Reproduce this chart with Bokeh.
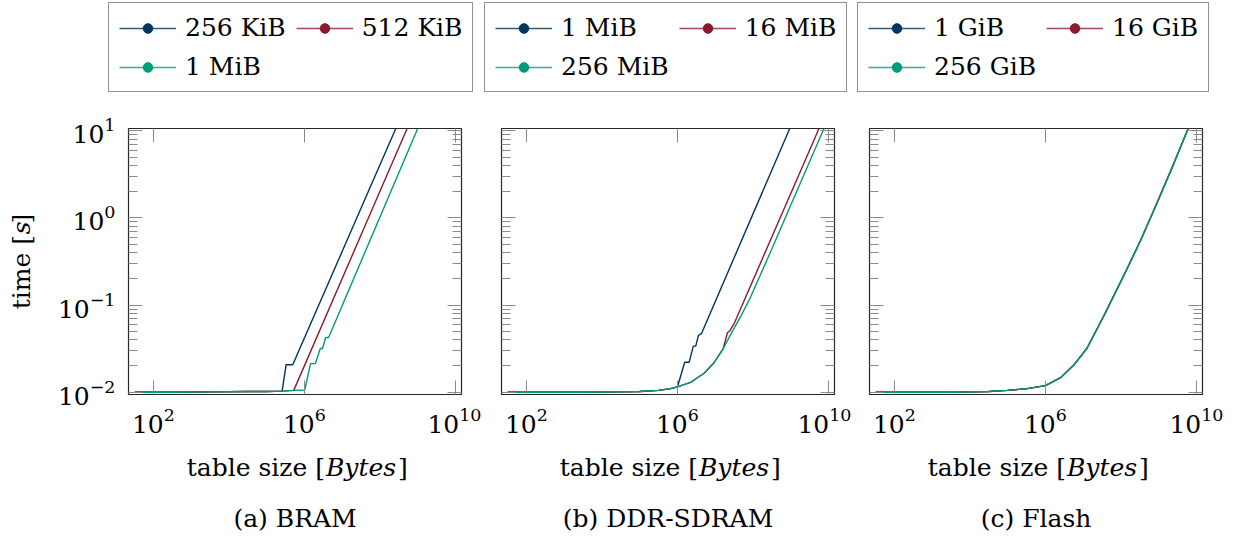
import numpy as np
from math import pi
from bokeh.plotting import figure
from bokeh.layouts import row, column
from bokeh.models import (Range1d, FixedTicker, LogAxis, Legend, LegendItem, Label,
                          CustomJSTickFormatter)
from bokeh.embed import file_html
from bokeh.resources import INLINE

# ---------------- data (x: log10 of table size in Bytes, y: time in s) ----------------
x_ticks = [1e2, 1e6, 1e10]
y_ticks = [1e-2, 1e-1, 1e0, 1e1]

colors = ["#00355F", "#8C1A2F", "#009B7A"]

# (a) BRAM
bram_labels = ["256 KiB", "512 KiB", "1 MiB"]
bram_256k_logx = [1.505, 2.5, 3.5, 4.5, 5.0, 5.409, 5.515, 5.69, 8.42]
bram_256k_t = [0.0100, 0.0100, 0.0101, 0.0102, 0.0102, 0.0103, 0.0207, 0.0207, 10.6]
bram_512k_logx = [1.505, 2.5, 3.5, 4.5, 5.0, 5.409, 5.717, 8.72]
bram_512k_t = [0.0100, 0.0100, 0.0101, 0.0102, 0.0102, 0.0103, 0.0105, 10.6]
bram_1m_logx = [1.505, 2.5, 3.5, 4.5, 5.0, 5.409, 5.717, 6.008, 6.16, 6.29, 6.42, 6.48, 6.56, 6.64, 9.0]
bram_1m_t = [0.0100, 0.0100, 0.0101, 0.0102, 0.0102, 0.0103, 0.0105, 0.0106, 0.0213, 0.0213,
             0.0318, 0.0318, 0.0425, 0.0425, 10.6]

# (b) DDR-SDRAM
ddr_labels = ["1 MiB", "16 MiB", "256 MiB"]
ddr_1m_logx = [1.505, 2.5, 3.5, 4.5, 5.0, 5.5, 5.82, 6.0, 6.193, 6.31, 6.42, 6.485, 6.556, 6.635, 8.975]
ddr_1m_t = [0.0100, 0.0100, 0.0100, 0.0101, 0.0102, 0.0105, 0.0110, 0.0115, 0.0221, 0.0221,
            0.0338, 0.0338, 0.0449, 0.0469, 10.6]
ddr_16m_logx = [1.505, 2.5, 3.5, 4.5, 5.0, 5.5, 5.82, 6.0, 6.35, 6.705, 6.97, 7.21, 7.324, 7.394, 7.5, 9.75]
ddr_16m_t = [0.0100, 0.0100, 0.0100, 0.0101, 0.0102, 0.0105, 0.0110, 0.0115, 0.0130, 0.0165,
             0.0218, 0.0315, 0.0482, 0.0512, 0.0611, 10.6]
ddr_256m_logx = [1.505, 2.5, 3.5, 4.5, 5.0, 5.5, 5.82, 6.0, 6.35, 6.705, 6.97, 7.21, 7.41, 7.68,
                 7.92, 8.5, 9.0, 9.5, 9.88]
ddr_256m_t = [0.0100, 0.0100, 0.0100, 0.0101, 0.0102, 0.0105, 0.0110, 0.0115, 0.0130, 0.0165,
              0.0218, 0.0315, 0.0462, 0.0748, 0.119, 0.44, 1.40, 4.4, 10.6]

# (c) Flash (all three sizes give the same curve)
flash_labels = ["1 GiB", "16 GiB", "256 GiB"]
flash_logx = [1.505, 2.5, 3.5, 4.5, 4.99, 5.52, 6.0, 6.40, 6.75, 7.10, 7.545, 8.07, 8.52, 8.96, 9.40, 9.78]
flash_t = [0.0100, 0.0100, 0.0100, 0.0102, 0.0105, 0.0110, 0.0119, 0.0147, 0.0205, 0.032,
           0.075, 0.216, 0.55, 1.5, 4.2, 10.6]
flash_1g_logx, flash_1g_t = flash_logx, flash_t
flash_16g_logx, flash_16g_t = flash_logx, flash_t
flash_256g_logx, flash_256g_t = flash_logx, flash_t

captions = ["(a) BRAM", "(b) DDR-SDRAM", "(c) Flash"]

# ---------------- layout constants ----------------
XMIN, XMAX = 1.34, 10.16
YMIN, YMAX = -2.026, 1.026
FW, FH = 333, 266
FONT = "DejaVu Serif"
FS = "25px"
TICK_GREY = "#8a8a8a"
TOTAL_W = 1230
TOP_H = 100          # legend strip
MID_TOP, MID_BOT = 28, 52
MID_H = MID_TOP + FH + MID_BOT
BOT_H = 545 - TOP_H - MID_H
YLAB_W = 45
panel_borders = [(128 - YLAB_W, 20), (20, 17), (18, 28)]
frame_left = [128, 501, 869]


def style_axis(ax, labels=True, minor=False):
    ax.axis_line_color = None
    ax.major_tick_in = 14
    ax.major_tick_out = 0
    ax.major_tick_line_color = TICK_GREY
    ax.major_tick_line_width = 1
    ax.minor_tick_in = 9 if minor else 0
    ax.minor_tick_out = 0
    ax.minor_tick_line_color = TICK_GREY if minor else None
    ax.major_label_text_font = FONT
    ax.major_label_text_color = "black"
    ax.major_label_text_font_size = FS
    ax.major_label_standoff = 13
    if not labels:
        ax.formatter = CustomJSTickFormatter(code="return ''")
        ax.major_label_text_font_size = "1px"
        ax.major_label_standoff = 0


def blank_fig(w, h):
    f = figure(width=w, height=h, x_range=Range1d(0, w), y_range=Range1d(0, h),
               x_axis_location=None, y_axis_location=None, output_backend="svg",
               toolbar_location=None, min_border=0)
    f.min_border_left = f.min_border_right = f.min_border_top = f.min_border_bottom = 0
    f.grid.visible = False
    f.outline_line_color = None
    f.title.visible = False
    f.background_fill_color = "white"
    f.border_fill_color = "white"
    return f


def make_panel(series, bl, br, ylabels):
    p = figure(x_axis_type="log", y_axis_type="log", frame_width=FW, frame_height=FH,
               x_range=Range1d(10 ** XMIN, 10 ** XMAX), y_range=Range1d(10 ** YMIN, 10 ** YMAX),
               output_backend="svg", toolbar_location=None,
               min_border_left=bl, min_border_right=br, min_border_top=MID_TOP,
               min_border_bottom=MID_BOT)
    p.title.visible = False
    p.grid.visible = False
    p.outline_line_color = "#262626"
    p.outline_line_width = 1.2
    p.background_fill_color = "white"
    p.border_fill_color = "white"

    minor_y = [m * 10.0 ** k for k in (-2, -1, 0) for m in range(2, 10)]
    p.xaxis.ticker = FixedTicker(ticks=x_ticks)
    p.yaxis.ticker = FixedTicker(ticks=y_ticks, minor_ticks=minor_y)
    style_axis(p.xaxis[0], labels=True)
    style_axis(p.yaxis[0], labels=ylabels, minor=True)

    top = LogAxis(ticker=FixedTicker(ticks=x_ticks))
    style_axis(top, labels=False)
    p.add_layout(top, "above")
    right = LogAxis(ticker=FixedTicker(ticks=y_ticks, minor_ticks=minor_y))
    style_axis(right, labels=False, minor=True)
    p.add_layout(right, "right")

    for name, logx, t, col in series:
        xs = [10 ** v for v in logx]
        p.line(xs, t, line_color=col, line_width=1.4)
    return p


panel_series = [
    [(bram_labels[0], bram_256k_logx, bram_256k_t, colors[0]),
     (bram_labels[1], bram_512k_logx, bram_512k_t, colors[1]),
     (bram_labels[2], bram_1m_logx, bram_1m_t, colors[2])],
    [(ddr_labels[0], ddr_1m_logx, ddr_1m_t, colors[0]),
     (ddr_labels[1], ddr_16m_logx, ddr_16m_t, colors[1]),
     (ddr_labels[2], ddr_256m_logx, ddr_256m_t, colors[2])],
    [(flash_labels[0], flash_1g_logx, flash_1g_t, colors[0]),
     (flash_labels[1], flash_16g_logx, flash_16g_t, colors[1]),
     (flash_labels[2], flash_256g_logx, flash_256g_t, colors[2])],
]

# ---------------- legend strip ----------------
legfig = blank_fig(TOTAL_W, TOP_H)
leg_left = [108, 484, 857]
for i, series in enumerate(panel_series):
    items = []
    for name, logx, t, col in series:
        # legend symbols only: these renderers sit outside the visible strip
        r = legfig.line([-60, -50], [-60, -50], line_color=col, line_width=1.4, line_alpha=0.8)
        m = legfig.scatter([-55], [-55], size=13, fill_color=col, line_color=col)
        items.append(LegendItem(label=name, renderers=[r, m]))
    leg = Legend(items=items, orientation="horizontal", ncols=2, location=(leg_left[i], 8),
                 label_text_font=FONT, label_text_font_size=FS, label_text_color="black",
                 glyph_width=57, glyph_height=24, label_standoff=9, spacing=10,
                 padding=10, margin=0,
                 border_line_color="#262626", border_line_width=1.2,
                 background_fill_color="white", background_fill_alpha=1.0)
    legfig.add_layout(leg, "center")

# ---------------- y label strip ----------------
ylabfig = blank_fig(YLAB_W, MID_H)
ly_center = MID_H - (264.5 - TOP_H)
anc = ly_center - 48 + 74
for txt, yy, al, style in [("time [", anc, "right", "normal"), ("s", anc + 1, "left", "italic"),
                           ("]", anc + 15, "left", "normal")]:
    ylabfig.add_layout(Label(x=21, y=yy, text=txt, text_align=al, angle=pi / 2,
                             text_baseline="middle", text_font=FONT, text_font_size=FS,
                             text_color="black", text_font_style=style))

# ---------------- plots ----------------
plots = []
for i, series in enumerate(panel_series):
    bl, br = panel_borders[i]
    plots.append(make_panel(series, bl, br, i == 0))

# ---------------- bottom strip: axis labels and captions ----------------
botfig = blank_fig(TOTAL_W, BOT_H)
for i in range(3):
    cx = frame_left[i] + FW / 2 + 2
    yl = 545 - 467
    anchor = cx - 110 + 138
    botfig.add_layout(Label(x=anchor, y=yl, text="table size [", text_align="right",
                            text_baseline="middle", text_font=FONT, text_font_size=FS,
                            text_color="black"))
    botfig.add_layout(Label(x=anchor + 1, y=yl, text="Bytes", text_align="left",
                            text_baseline="middle", text_font=FONT, text_font_size=FS,
                            text_color="black", text_font_style="italic"))
    botfig.add_layout(Label(x=anchor + 73, y=yl, text="]", text_align="left",
                            text_baseline="middle", text_font=FONT, text_font_size=FS,
                            text_color="black"))
    botfig.add_layout(Label(x=frame_left[i] + FW / 2, y=545 - 518, text=captions[i],
                            text_align="center", text_baseline="middle", text_font=FONT,
                            text_font_size=FS, text_color="black"))

layout = column(legfig, row(ylabfig, *plots), botfig)
open("out.html", "w").write(file_html(layout, INLINE))
